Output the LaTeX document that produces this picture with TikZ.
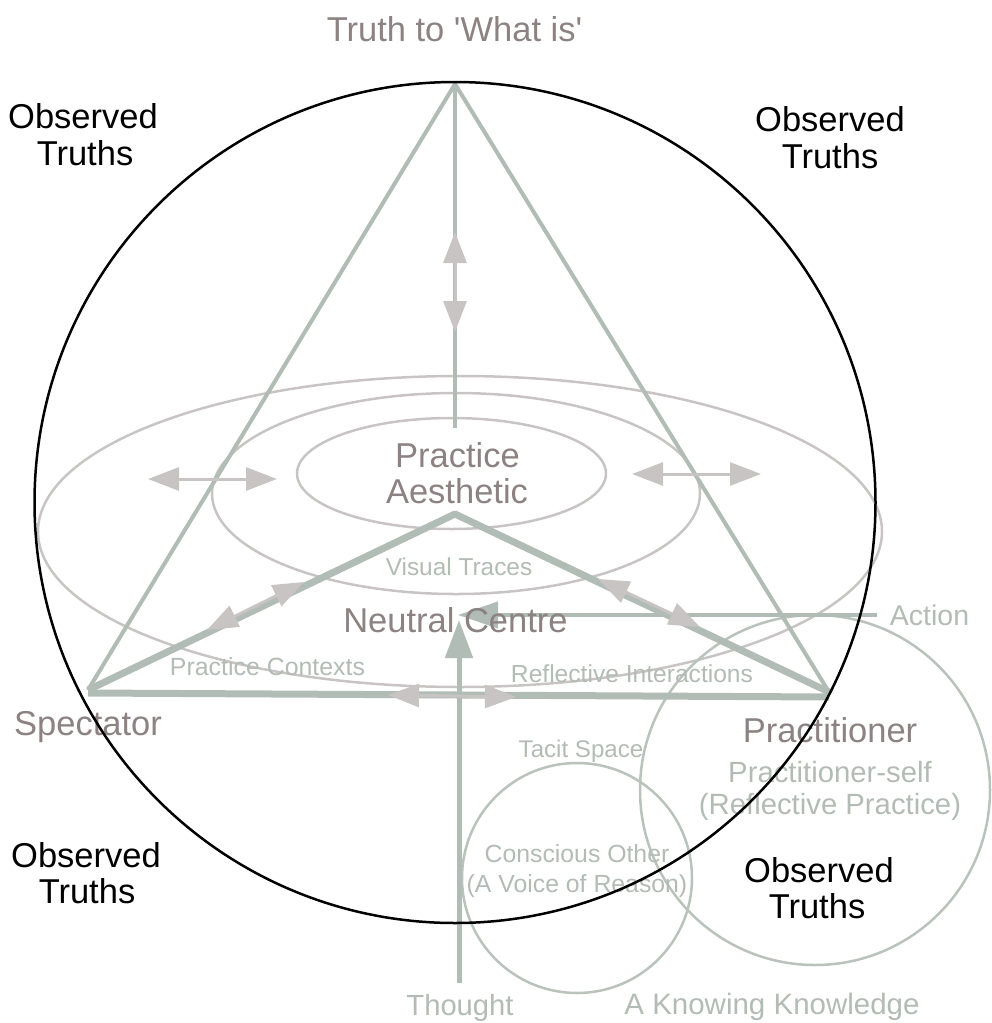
\documentclass[tikz,border=0pt]{standalone}
\usepackage{fontspec}
\setmainfont{Liberation Sans}
\usetikzlibrary{arrows.meta}
\definecolor{darktxt}{HTML}{8C8282}
\definecolor{lighttxt}{HTML}{B3BBB5}
\definecolor{greenline}{HTML}{B2BCB6}
\definecolor{pinkline}{HTML}{C9C4C4}
\definecolor{pinkarrow}{HTML}{C8C4C4}
\definecolor{circline}{HTML}{BAC2BC}
\begin{document}
\begin{tikzpicture}[x=1pt,y=-1pt,
  lbl/.style={inner sep=0pt, anchor=base},
  big/.style={font=\fontsize{34.5}{37}\selectfont},
  mid/.style={font=\fontsize{29.3}{33}\selectfont},
  small/.style={font=\fontsize{24.6}{28}\selectfont},
  dbl/.style={draw=pinkarrow, line width=3pt,
    {Triangle[length=31pt,width=23pt]}-{Triangle[length=31pt,width=23pt]}},
  ell/.style={draw=pinkline, line width=2.5pt},
  circ/.style={draw=circline, line width=2.5pt},
]
\useasboundingbox (0,0) rectangle (992,1023);

% key points
\coordinate (A) at (455,84);
\coordinate (S) at (88,690);
\coordinate (P) at (829,692);
\coordinate (I) at (455,514);
\coordinate (SB) at (88,693);
\coordinate (PB) at (829,697);
\coordinate (Vend) at (455,428);

% ellipses
\draw[ell] (460,531.5) ellipse[x radius=422, y radius=155.5];
\draw[ell] (456,493.5) ellipse[x radius=244, y radius=100.5];
\draw[ell] (451.5,473.5) ellipse[x radius=154.5, y radius=55.5];

% lower circles
\draw[circ] (815,790) circle[radius=175];
\draw[circ] (577,878) circle[radius=115];

% triangle
\draw[greenline, line width=4pt, line join=round] (S) -- (A) -- (P);
\draw[greenline, line width=4pt] (A) -- (Vend);
\draw[greenline, line width=7pt, line join=round] (S) -- (I) -- (P);
\draw[greenline, line width=7pt] (SB) -- (PB);

% action and thought
\coordinate (actStart) at (877,615);
\coordinate (actTip) at (458,615);
\draw[greenline, line width=4pt, -{Triangle[length=40pt,width=26pt]}] (actStart) -- (actTip);
\coordinate (thStart) at (459,983);
\coordinate (thTip) at (459,620);
\draw[greenline, line width=5pt, -{Triangle[length=38pt,width=27pt]}] (thStart) -- (thTip);

% double arrows
\coordinate (v1) at (455,232); \coordinate (v2) at (455,332);
\draw[dbl] (v1) -- (v2);
\coordinate (l1) at (148,479); \coordinate (l2) at (277,479);
\draw[dbl] (l1) -- (l2);
\coordinate (r1) at (632,474); \coordinate (r2) at (761,474);
\draw[dbl] (r1) -- (r2);
\coordinate (ld1) at (207,630); \coordinate (ld2) at (304,582);
\draw[dbl] (ld1) -- (ld2);
\coordinate (rd1) at (598,579); \coordinate (rd2) at (700,627);
\draw[dbl] (rd1) -- (rd2);
\coordinate (b1) at (388,695); \coordinate (b2) at (516,697);
\draw[dbl] (b1) -- (b2);

% texts
\node[lbl,big,text=darktxt] (truth) at (454.5,41) {Truth to \textquotesingle What is\textquotesingle};

\node[lbl,big] (otl1) at (83,128) {Observed};
\node[lbl,big] (otl2) at (85,165) {Truths};
\node[lbl,big] (otr1) at (830,131) {Observed};
\node[lbl,big] (otr2) at (830,168) {Truths};
\node[lbl,big] (obl1) at (86,867) {Observed};
\node[lbl,big] (obl2) at (87,903) {Truths};
\node[lbl,big] (obr1) at (819,882) {Observed};
\node[lbl,big] (obr2) at (817,918) {Truths};

\node[lbl,big,text=darktxt] (pa1) at (457.5,467) {Practice};
\node[lbl,big,text=darktxt] (pa2) at (457,503) {Aesthetic};
\node[lbl,big,text=darktxt] (nc) at (455.5,632) {Neutral Centre};
\node[lbl,big,text=darktxt] (spec) at (88,735) {Spectator};
\node[lbl,big,text=darktxt] (prac) at (830,742) {Practitioner};

\node[lbl,font=\fontsize{24.4}{28}\selectfont,text=lighttxt] (vt) at (459,575) {Visual Traces};
\node[lbl,font=\fontsize{24.9}{28}\selectfont,text=lighttxt] (pc) at (267.5,675) {Practice Contexts};
\node[lbl,small,text=lighttxt] (ri) at (632,682) {Reflective Interactions};
\node[lbl,font=\fontsize{28.5}{32}\selectfont,text=lighttxt] (act) at (929.5,625) {Action};
\node[lbl,mid,text=lighttxt] (ps1) at (830,782) {Practitioner-self};
\node[lbl,mid,text=lighttxt] (ps2) at (830,814) {(Reflective Practice)};
\node[lbl,font=\fontsize{24.1}{28}\selectfont,text=lighttxt] (ts) at (581,757) {Tacit Space};
\node[lbl,font=\fontsize{24.8}{28}\selectfont,text=lighttxt] (co1) at (577,862) {Conscious Other};
\node[lbl,font=\fontsize{24.8}{28}\selectfont,text=lighttxt] (co2) at (577,892) {(A Voice of Reason)};
\node[lbl,font=\fontsize{29.2}{33}\selectfont,text=lighttxt] (th) at (460,1015) {Thought};
\node[lbl,font=\fontsize{29.5}{33}\selectfont,text=lighttxt] (akk) at (772,1014) {A Knowing Knowledge};

% outer black circle
\draw[black, line width=2.5pt] (455,502.5) circle[radius=420.5];
\end{tikzpicture}
\end{document}
